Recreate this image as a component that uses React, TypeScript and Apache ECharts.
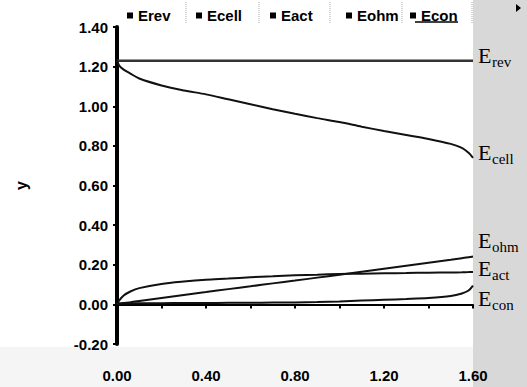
import React, { useEffect, useRef } from "react";
import * as echarts from "echarts";

const xs = [0, 0.01, 0.03, 0.06, 0.1, 0.2, 0.3, 0.4, 0.5, 0.6, 0.7, 0.8, 0.9, 1.0, 1.1, 1.2, 1.3, 1.4, 1.5, 1.55, 1.58, 1.6];
const erev = [1.23, 1.23, 1.23, 1.23, 1.23, 1.23, 1.23, 1.23, 1.23, 1.23, 1.23, 1.23, 1.23, 1.23, 1.23, 1.23, 1.23, 1.23, 1.23, 1.23, 1.23, 1.23];
const ecell = [1.23, 1.205, 1.185, 1.165, 1.14, 1.105, 1.08, 1.06, 1.035, 1.01, 0.985, 0.962, 0.94, 0.92, 0.897, 0.875, 0.855, 0.835, 0.81, 0.79, 0.765, 0.74];
const eact = [0, 0.02, 0.045, 0.065, 0.082, 0.103, 0.115, 0.124, 0.13, 0.137, 0.142, 0.147, 0.15, 0.153, 0.155, 0.157, 0.158, 0.16, 0.161, 0.162, 0.163, 0.164];
const eohm = [0.003, 0.005, 0.007, 0.011, 0.017, 0.032, 0.047, 0.062, 0.077, 0.091, 0.106, 0.12, 0.135, 0.15, 0.165, 0.18, 0.195, 0.21, 0.225, 0.233, 0.238, 0.242];
const econ = [0.003, 0.004, 0.005, 0.005, 0.006, 0.006, 0.007, 0.007, 0.008, 0.008, 0.009, 0.01, 0.012, 0.015, 0.019, 0.023, 0.027, 0.032, 0.042, 0.055, 0.07, 0.095];

const seriesNames = ["Erev", "Ecell", "Eact", "Eohm", "Econ"];
const seriesValues = [erev, ecell, eact, eohm, econ];
const legendLefts = [122, 191, 265, 341, 405];

const endLabels = [
  { main: "E", sub: "rev", y: 55 },
  { main: "E", sub: "cell", y: 152 },
  { main: "E", sub: "ohm", y: 240 },
  { main: "E", sub: "act", y: 268 },
  { main: "E", sub: "con", y: 298 },
];

const sans = "'Liberation Sans', Arial, sans-serif";
const serif = "'Liberation Serif', 'Times New Roman', serif";

export default function App() {
  const ref = useRef<HTMLDivElement>(null);
  useEffect(() => {
    if (!ref.current) return;
    const chart = echarts.init(ref.current, undefined, { renderer: "svg" });
    const graphics: any[] = [
      { type: "rect", z: -10, shape: { x: 473, y: 0, width: 54, height: 387 }, style: { fill: "#d8d8d8" } },
      { type: "rect", z: -10, shape: { x: 0, y: 347, width: 473, height: 40 }, style: { fill: "#f5f5f5" } },
      { type: "polygon", shape: { points: [[516, 4], [516, 12], [521, 8]] }, style: { fill: "#000" } },
      { type: "line", shape: { x1: 415, y1: 22, x2: 458, y2: 22 }, style: { stroke: "#000", lineWidth: 1.5 } },
    ];
    [186, 259, 330, 402, 472].forEach((x) => {
      graphics.push({ type: "line", shape: { x1: x, y1: 2, x2: x, y2: 24 }, style: { stroke: "#aaa", lineWidth: 1, lineDash: [1, 1] } });
    });
    endLabels.forEach((l) => {
      graphics.push({ type: "text", x: 478, y: l.y, style: { text: l.main, font: `22px ${serif}`, fill: "#000", verticalAlign: "middle", align: "left" } });
      graphics.push({ type: "text", x: 492, y: l.y + 7, style: { text: l.sub, font: `15px ${serif}`, fill: "#000", verticalAlign: "middle", align: "left" } });
    });
    chart.setOption({
      animation: false,
      backgroundColor: "#fff",
      grid: { left: 117, right: 54, top: 27, bottom: 43 },
      legend: seriesNames.map((n, i) => ({
        data: [n],
        left: legendLefts[i],
        top: 3,
        icon: "rect",
        itemWidth: 6,
        itemHeight: 6,
        textStyle: { fontFamily: sans, fontWeight: "bold", fontSize: 15, color: "#000" },
        selectedMode: false,
      })),
      xAxis: {
        type: "value",
        min: 0,
        max: 1.6,
        interval: 0.4,
        offset: 18,
        axisLine: { show: true, lineStyle: { color: "#000", width: 2 } },
        axisTick: { show: true, length: 4, lineStyle: { color: "#000", width: 2 } },
        minorTick: { show: true, splitNumber: 2, length: 4, lineStyle: { color: "#000", width: 2 } },
        splitLine: { show: false },
        axisLabel: { formatter: (v: number) => v.toFixed(2), fontFamily: sans, fontWeight: "bold", fontSize: 15, color: "#000", margin: 6 },
      },
      yAxis: {
        type: "value",
        min: -0.2,
        max: 1.4,
        interval: 0.2,
        name: "y",
        nameLocation: "middle",
        nameRotate: 90,
        nameGap: 88,
        nameTextStyle: { fontFamily: sans, fontWeight: "bold", fontSize: 16, color: "#000" },
        axisLine: { show: true, lineStyle: { color: "#000", width: 4 } },
        axisTick: { show: true, length: 4, lineStyle: { color: "#000", width: 2 } },
        splitLine: { show: false },
        axisLabel: { formatter: (v: number) => v.toFixed(2), fontFamily: sans, fontWeight: "bold", fontSize: 15, color: "#000", margin: 9 },
      },
      series: seriesNames.map((n, i) => ({
        name: n,
        type: "line",
        data: xs.map((x, j) => [x, seriesValues[i][j]]),
        showSymbol: false,
        symbol: "rect",
        smooth: 0.3,
        itemStyle: { color: "#000" },
        lineStyle: { color: i === 0 ? "#333" : "#111", width: i === 0 ? 2.5 : 2 },
      })),
      graphic: graphics,
    });
    return () => chart.dispose();
  }, []);
  return <div ref={ref} style={{ position: "fixed", left: 0, top: 0, width: 527, height: 387 }} />;
}
